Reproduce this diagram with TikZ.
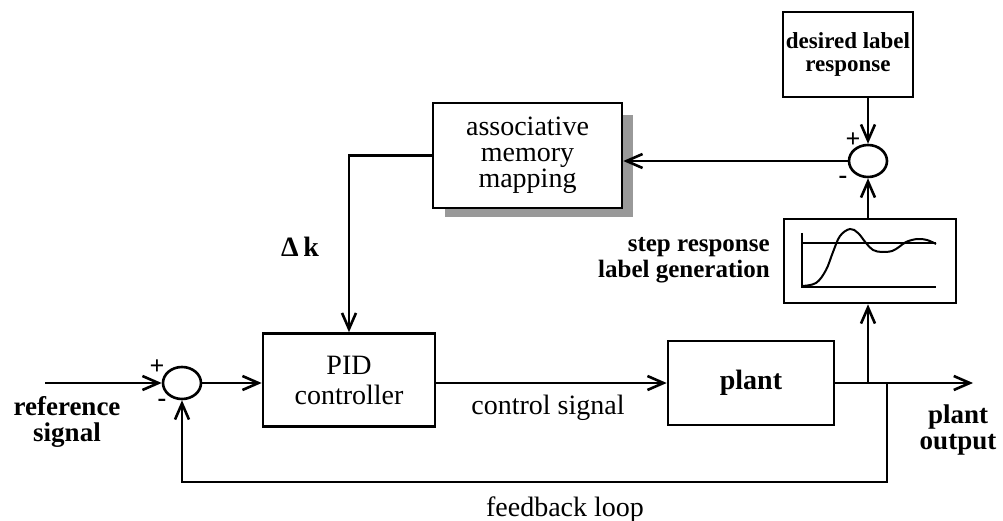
\documentclass[tikz,border=0pt]{standalone}
\usepackage{fontspec}
\setmainfont{Liberation Serif}
\usetikzlibrary{arrows.meta,shapes.geometric,calc}
\begin{document}
\begin{tikzpicture}[x=1pt,y=-1pt,
  font=\fontsize{28}{26}\selectfont,
  line width=2.6pt,
  >={Straight Barb[length=16pt,width=14pt,line width=2.6pt]},
  block/.style={draw,rectangle,inner sep=0pt,align=center},
  summer/.style={draw,ellipse,minimum width=38pt,minimum height=32pt,inner sep=0pt},
  sign/.style={inner sep=0pt,font=\fontsize{26}{26}\selectfont\bfseries},
  lbl/.style={inner sep=0pt,align=center},
  shade/.style={fill=black!40,draw=none}]
\useasboundingbox (0,0) rectangle (1003,521);

% blocks
\node[block,minimum width=130pt,minimum height=85pt,font=\fontsize{23}{23}\selectfont\bfseries]
  (desired) at (848,54.5) {desired label\\response};
\node[summer] (sumT) at (868,161) {};
\node[block,minimum width=172pt,minimum height=84pt] (step) at (870,261) {};
% drop shadow of the memory block
\fill[shade] (445,115) rectangle (633,217);
\node[block,fill=white,minimum width=189pt,minimum height=105pt]
  (memory) at (527.5,155.5) {associative\\memory\\mapping};
\node[block,minimum width=172pt,minimum height=93pt,font=\fontsize{28}{30}\selectfont]
  (pid) at (349,380) {PID\\controller};
\node[block,minimum width=166pt,minimum height=84pt,font=\fontsize{28}{28}\selectfont\bfseries]
  (plant) at (751,383) {plant};
\node[summer] (sumL) at (182,383) {};

% step response sketch inside the label generator
\draw[line width=2pt] (802,233) -- (802,287) -- (936,287);
\draw[line width=2pt] (802,243) -- (936,243);
\draw[line width=2pt] plot[smooth,tension=0.6] coordinates
  {(802,286) (816,283) (826,270) (833,252) (840,236) (850,229) (858,233)
   (866,243) (873,250) (882,252) (892,251) (899,247) (906,242) (917,239)
   (927,240) (936,244)};

% free ends and junctions
\coordinate (in) at (45,383);
\coordinate (out) at (973,383);
\coordinate (jstep) at (868,383);
\coordinate (jfb) at (887,383);
\coordinate (fb) at (887,482);

% signal flow
\draw[->] (in) -- (sumL.west);
\draw[->] (sumL.east) -- (pid.west |- sumL);
\draw[->] (pid.east |- sumL) -- (plant.west);
\draw[->] (plant.east) -- (out);
\draw[->] (jstep) -- (jstep |- step.south);
\draw[->] (step.north -| sumT) -- (sumT.south);
\draw[->] (sumT.north |- desired.south) -- (sumT.north);
\draw[->] (sumT.west) -- (memory.east |- sumT.west);
\draw[->] (memory.west) -| (pid.north);
\draw[->] (jfb) -- (fb) -| (sumL.south);

% signs at the summing junctions
\node[sign] at (157,367) {+};
\node[sign] at (162,403) {-};
\node[sign] at (853,140) {+};
\node[sign] at (843,180) {-};

% labels
\node[lbl,font=\fontsize{28}{28}\selectfont\bfseries] at (300,247) {Δ\,k};
\node[lbl,anchor=east,align=right,font=\fontsize{25}{26}\selectfont\bfseries] at (771,260)
  {step response\\label generation};
\node[lbl,font=\fontsize{27}{26}\selectfont\bfseries] at (67,422) {reference\\signal};
\node[lbl,font=\fontsize{27}{26}\selectfont\bfseries] at (958,430) {plant\\output};
\node[lbl] at (548,408) {control signal};
\node[lbl] at (565,510) {feedback loop};
\end{tikzpicture}
\end{document}
